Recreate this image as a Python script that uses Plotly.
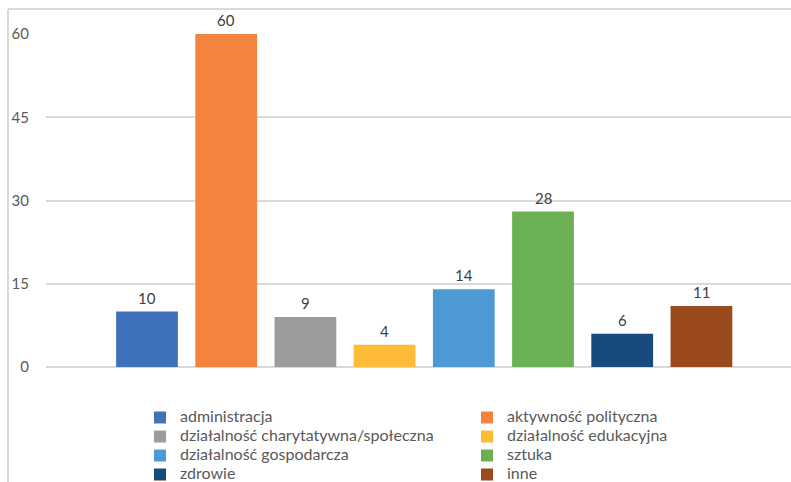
import plotly.graph_objects as go

categories = ["administracja", "aktywność polityczna", "działalność charytatywna/społeczna",
              "działalność edukacyjna", "działalność gospodarcza", "sztuka", "zdrowie", "inne"]
values = [10, 60, 9, 4, 14, 28, 6, 11]
colors = ["#4072BB", "#F28440", "#9A9C9D", "#FEBB38", "#4D99D4", "#6BB052", "#184A7E", "#9B4A1E"]
y_ticks = [0, 15, 30, 45, 60]

FONT = "Lato, Carlito, Calibri, sans-serif"
TXT = "#595959"

fig = go.Figure()
for c, v, col in zip(categories, values, colors):
    fig.add_trace(go.Bar(x=[c], y=[v], name=f'<span style="font-size:16px">{c}</span>',
                         marker=dict(color=col, line=dict(width=0))))

for c, v in zip(categories, values):
    fig.add_annotation(x=c, y=v, text=str(v), showarrow=False, yanchor="bottom", yshift=3,
                       font=dict(family=FONT, size=15, color="#404040"))

W, H = 791, 482
L, R, T, B = 46, 0, 34, 115
pw, ph = W - L - R, H - T - B

def px_x(x):
    return (x - L) / pw

def px_y(y):
    return (H - B - y) / ph

fig.add_shape(type="line", xref="paper", yref="paper", x0=px_x(8), x1=px_x(800), y0=px_y(9), y1=px_y(9),
              line=dict(color="#D9D9D9", width=2))
fig.add_shape(type="line", xref="paper", yref="paper", x0=px_x(8), x1=px_x(8), y0=px_y(9), y1=px_y(500),
              line=dict(color="#D9D9D9", width=2))

fig.update_layout(
    width=W, height=H,
    margin=dict(l=L, r=R, t=T, b=B, autoexpand=False),
    paper_bgcolor="white", plot_bgcolor="white",
    barmode="overlay", bargap=0.22,
    font=dict(family=FONT, size=15, color=TXT),
    showlegend=True,
    legend=dict(orientation="h", xref="container", yref="container",
                x=140 / W, y=1 - 403 / H, xanchor="left", yanchor="top",
                entrywidth=282, entrywidthmode="pixels", traceorder="normal",
                font=dict(family=FONT, size=12, color=TXT), bgcolor="rgba(0,0,0,0)"),
    xaxis=dict(showticklabels=False, showgrid=False, zeroline=False, showline=False,
               range=[-1.275, 8.131], fixedrange=True),
    yaxis=dict(range=[0, 60], tickvals=y_ticks, showgrid=True, gridcolor="#D9D9D9", gridwidth=2,
               zeroline=True, zerolinecolor="#D9D9D9", zerolinewidth=2, showline=False,
               ticks="", ticklabelstandoff=16, tickfont=dict(family=FONT, size=15, color=TXT)),
)

fig.write_html("out.html")
